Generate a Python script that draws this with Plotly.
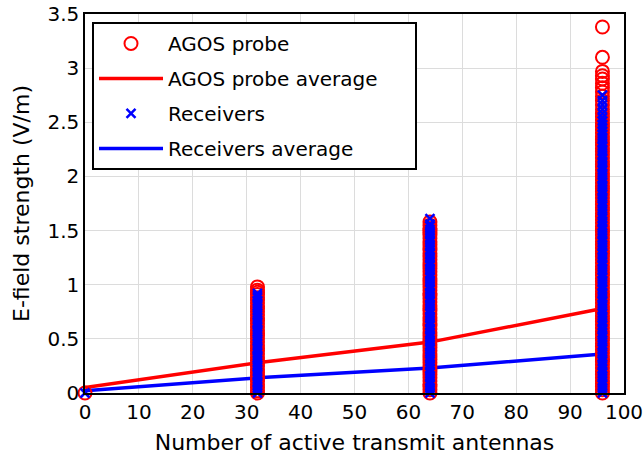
import plotly.graph_objects as go

# Number of active transmit antennas for each measurement group
antennas = [0, 32, 64, 96]

# AGOS probe readings (V/m) per group
agos_0 = [0.0]
agos_32 = [0.00, 0.02, 0.05, 0.08, 0.11, 0.13, 0.16, 0.19, 0.22, 0.25, 0.27, 0.30,
           0.33, 0.36, 0.39, 0.41, 0.44, 0.47, 0.50, 0.53, 0.55, 0.58, 0.61, 0.64,
           0.67, 0.69, 0.72, 0.75, 0.78, 0.80, 0.83, 0.86, 0.88, 0.91, 0.93, 0.95, 0.98]
agos_64 = [0.00, 0.03, 0.06, 0.08, 0.11, 0.14, 0.17, 0.20, 0.22, 0.25, 0.28, 0.31,
           0.34, 0.36, 0.39, 0.42, 0.45, 0.48, 0.50, 0.53, 0.56, 0.59, 0.62, 0.64,
           0.67, 0.70, 0.73, 0.76, 0.78, 0.81, 0.84, 0.87, 0.90, 0.92, 0.95, 0.98,
           1.01, 1.04, 1.06, 1.09, 1.12, 1.15, 1.18, 1.20, 1.23, 1.26, 1.29, 1.32,
           1.34, 1.37, 1.40, 1.43, 1.46, 1.48, 1.50, 1.52, 1.55, 1.58]
agos_96 = [0.00, 0.03, 0.06, 0.09, 0.11, 0.14, 0.17, 0.20, 0.23, 0.26, 0.29, 0.31,
           0.34, 0.37, 0.40, 0.43, 0.46, 0.49, 0.51, 0.54, 0.57, 0.60, 0.63, 0.66,
           0.69, 0.71, 0.74, 0.77, 0.80, 0.83, 0.86, 0.89, 0.91, 0.94, 0.97, 1.00,
           1.03, 1.06, 1.09, 1.11, 1.14, 1.17, 1.20, 1.23, 1.26, 1.29, 1.31, 1.34,
           1.37, 1.40, 1.43, 1.46, 1.49, 1.51, 1.54, 1.57, 1.60, 1.63, 1.66, 1.69,
           1.71, 1.74, 1.77, 1.80, 1.83, 1.86, 1.89, 1.91, 1.94, 1.97, 2.00, 2.03,
           2.06, 2.09, 2.11, 2.14, 2.17, 2.20, 2.23, 2.26, 2.29, 2.31, 2.34, 2.37,
           2.40, 2.43, 2.46, 2.49, 2.52, 2.55, 2.58, 2.62, 2.66, 2.70, 2.74, 2.78,
           2.82, 2.86, 2.90, 2.93, 2.97, 3.10, 3.38]

# Receiver readings (V/m) per group
rx_0 = [0.0]
rx_32 = [0.00, 0.03, 0.05, 0.08, 0.10, 0.13, 0.16, 0.18, 0.21, 0.24, 0.26, 0.29,
         0.32, 0.34, 0.37, 0.40, 0.42, 0.45, 0.48, 0.50, 0.53, 0.56, 0.58, 0.61,
         0.64, 0.66, 0.69, 0.72, 0.74, 0.77, 0.80, 0.82, 0.85, 0.88, 0.90, 0.92]
rx_64 = [0.00, 0.03, 0.05, 0.08, 0.11, 0.14, 0.16, 0.19, 0.22, 0.25, 0.27, 0.30,
         0.33, 0.36, 0.38, 0.41, 0.44, 0.47, 0.49, 0.52, 0.55, 0.58, 0.60, 0.63,
         0.66, 0.69, 0.71, 0.74, 0.77, 0.80, 0.82, 0.85, 0.88, 0.91, 0.93, 0.96,
         0.99, 1.02, 1.04, 1.07, 1.10, 1.13, 1.15, 1.18, 1.21, 1.24, 1.26, 1.29,
         1.32, 1.35, 1.37, 1.40, 1.43, 1.46, 1.48, 1.51, 1.54, 1.56, 1.61]
rx_96 = [0.00, 0.03, 0.05, 0.08, 0.11, 0.14, 0.16, 0.19, 0.22, 0.25, 0.27, 0.30,
         0.33, 0.36, 0.38, 0.41, 0.44, 0.47, 0.49, 0.52, 0.55, 0.58, 0.60, 0.63,
         0.66, 0.69, 0.71, 0.74, 0.77, 0.80, 0.82, 0.85, 0.88, 0.91, 0.93, 0.96,
         0.99, 1.02, 1.04, 1.07, 1.10, 1.13, 1.15, 1.18, 1.21, 1.24, 1.26, 1.29,
         1.32, 1.35, 1.37, 1.40, 1.43, 1.46, 1.48, 1.51, 1.54, 1.57, 1.59, 1.62,
         1.65, 1.68, 1.70, 1.73, 1.76, 1.79, 1.81, 1.84, 1.87, 1.90, 1.92, 1.95,
         1.98, 2.01, 2.03, 2.06, 2.09, 2.12, 2.14, 2.17, 2.20, 2.23, 2.25, 2.28,
         2.31, 2.34, 2.36, 2.39, 2.42, 2.45, 2.48, 2.51, 2.54, 2.58, 2.62, 2.66,
         2.70, 2.75]

# Group averages (V/m)
agos_avg = [0.05, 0.28, 0.47, 0.78]
rx_avg = [0.02, 0.14, 0.23, 0.36]

x_ticks = [0, 10, 20, 30, 40, 50, 60, 70, 80, 90, 100]
y_ticks = [0, 0.5, 1, 1.5, 2, 2.5, 3, 3.5]

RED = "#ff0000"
BLUE = "#0000ff"
FONT = "DejaVu Sans"
PAD = "\u00a0" * 5  # extra room on the right side of the legend box


def expand(groups):
    xs, ys = [], []
    for n, vals in zip(antennas, groups):
        xs += [n] * len(vals)
        ys += vals
    return xs, ys


agos_x, agos_y = expand([agos_0, agos_32, agos_64, agos_96])
rx_x, rx_y = expand([rx_0, rx_32, rx_64, rx_96])

fig = go.Figure()

# average lines sit underneath the scatter columns
fig.add_trace(go.Scatter(
    x=antennas, y=agos_avg, mode="lines", name="AGOS probe average" + PAD,
    line=dict(color=RED, width=3.5), legendgroup="g2", legendrank=2,
    cliponaxis=False))
fig.add_trace(go.Scatter(
    x=antennas, y=rx_avg, mode="lines", name="Receivers average",
    line=dict(color=BLUE, width=3.5), legendgroup="g4", legendrank=4,
    cliponaxis=False))
fig.add_trace(go.Scatter(
    x=agos_x, y=agos_y, mode="markers", name="AGOS probe",
    marker=dict(symbol="circle-open", size=13, color=RED, line=dict(width=2, color=RED)),
    legendgroup="g1", legendrank=1, cliponaxis=False))
fig.add_trace(go.Scatter(
    x=rx_x, y=rx_y, mode="markers", name="Receivers",
    marker=dict(symbol="x-thin-open", size=9, color=BLUE, line=dict(width=2.5, color=BLUE)),
    legendgroup="g3", legendrank=3, cliponaxis=False))

axis_common = dict(
    showgrid=True, gridcolor="#dcdcdc", gridwidth=1,
    showline=True, linecolor="black", linewidth=1.5, mirror=True,
    zeroline=False, ticks="", automargin=False, ticklabeloverflow="allow",
    tickfont=dict(family=FONT, size=20, color="black"),
)

fig.update_layout(
    width=643, height=462,
    margin=dict(l=85, r=19, t=14, b=69),
    paper_bgcolor="white", plot_bgcolor="white",
    font=dict(family=FONT, color="black"),
    showlegend=True,
    legend=dict(
        x=0.013, y=0.979, xanchor="left", yanchor="top",
        bgcolor="white", bordercolor="black", borderwidth=2,
        font=dict(family=FONT, size=20, color="black"),
        tracegroupgap=6, itemwidth=64,
    ),
    xaxis=dict(range=[0, 100], tickvals=x_ticks,
               title=dict(text="Number of active transmit antennas",
                          font=dict(family=FONT, size=22), standoff=12),
               **axis_common),
    yaxis=dict(range=[0, 3.5], tickvals=y_ticks,
               title=dict(text="E-field strength (V/m)",
                          font=dict(family=FONT, size=22), standoff=12),
               **axis_common),
)

fig.write_html("out.html")
